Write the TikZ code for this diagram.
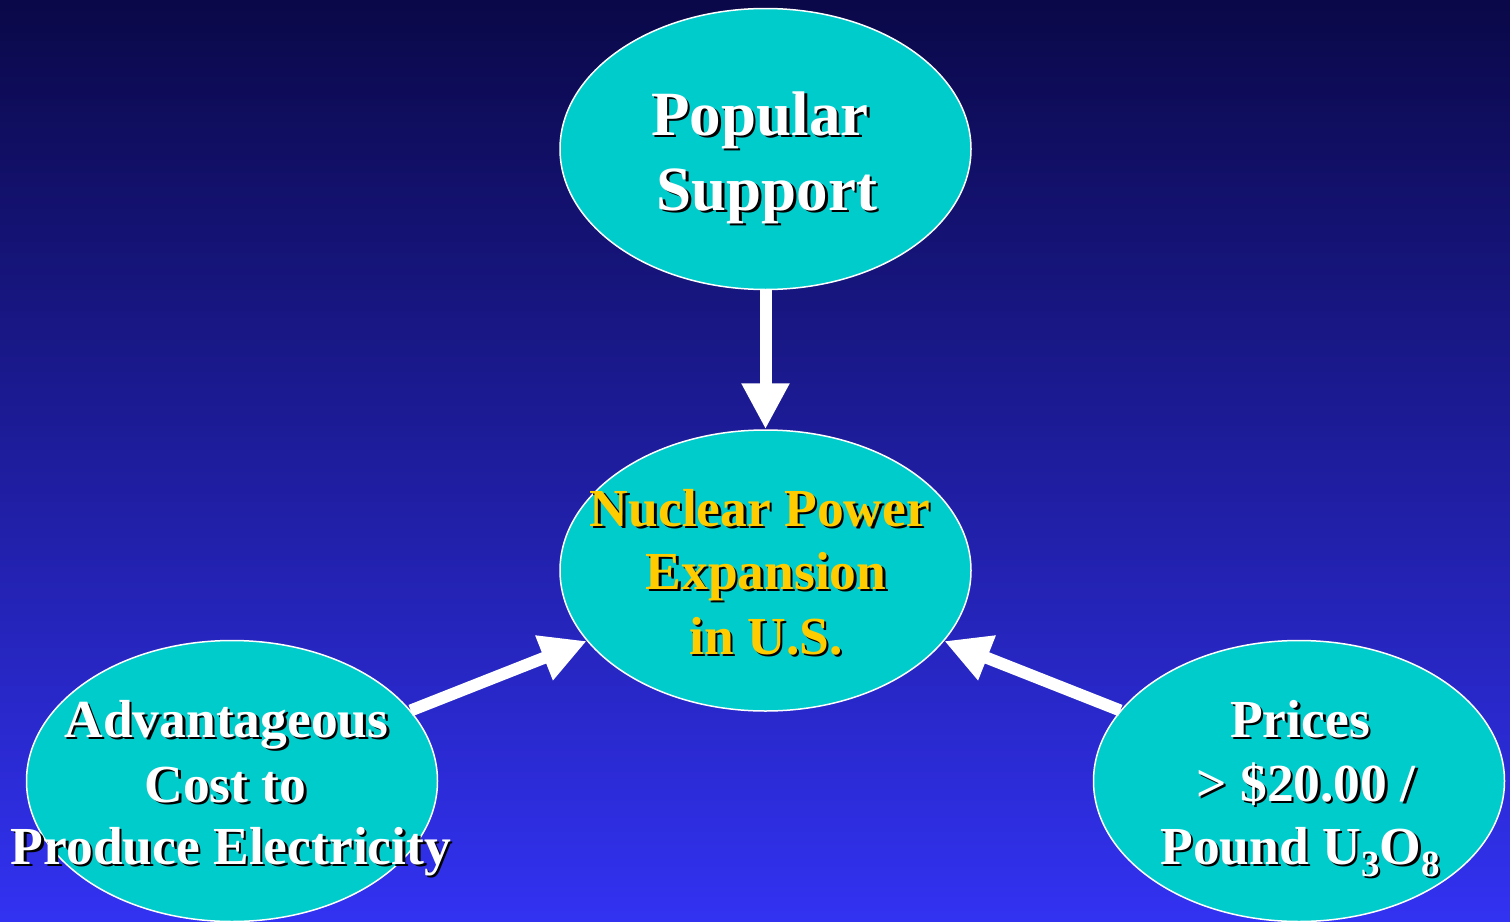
\documentclass[tikz,border=0pt]{standalone}
\usepackage{fontspec}
\setmainfont{Liberation Serif}
\usetikzlibrary{shapes.geometric,arrows.meta}
\definecolor{bgtop}{RGB}{10,8,72}
\definecolor{bgbot}{RGB}{50,50,242}
\definecolor{cyanfill}{RGB}{0,204,204}
\definecolor{gold}{RGB}{255,204,0}
\definecolor{shadowc}{RGB}{0,0,0}
\newcommand\shline[1]{\rlap{\kern2.5pt\raisebox{-2.5pt}{\color{shadowc}#1}}#1}
\newcommand\subd[1]{\raisebox{-12pt}{\fontsize{37}{37}\selectfont #1}}
\tikzset{
  bubble/.style={ellipse, draw=white, line width=1.5pt, fill=cyanfill,
    minimum width=411pt, minimum height=281pt, inner sep=0pt},
  txt/.style={anchor=base, inner sep=0pt, text=white,
    font=\fontsize{53.5}{64}\selectfont\bfseries},
  bigtxt/.style={txt, font=\fontsize{63}{75}\selectfont\bfseries},
  goldtxt/.style={txt, text=gold},
  fat/.style={draw=white, line width=12pt,
    -{Triangle[width=45pt,length=46pt]}}
}
\begin{document}
\begin{tikzpicture}[x=1pt,y=1pt]
\useasboundingbox (0,0) rectangle (1510,-921);
\shade[top color=bgtop, bottom color=bgbot] (0,0) rectangle (1510,-921);

\node[bubble] (top) at (765.5,-149) {};
\node[bubble] (mid) at (765.5,-570.5) {};
\node[bubble] (left) at (232,-781) {};
\node[bubble] (right) at (1299,-781) {};

\draw[fat] (top) -- (mid);
\draw[fat] (left) -- (mid);
\draw[fat] (right) -- (mid);

\node[bigtxt] (t1) at (760,-135) {\shline{Popular}};
\node[bigtxt] (t2) at (767,-210) {\shline{Support}};

\node[goldtxt] (m1) at (760,-526) {\shline{Nuclear Power}};
\node[goldtxt] (m2) at (766,-589) {\shline{Expansion}};
\node[goldtxt] (m3) at (766,-654) {\shline{in U.S.}};

\node[txt] (l1) at (226.5,-737) {\shline{Advantageous}};
\node[txt] (l2) at (225.5,-802) {\shline{Cost to}};
\node[txt] (l3) at (231,-864) {\shline{Produce Electricity}};

\node[txt] (r1) at (1300,-737) {\shline{Prices}};
\node[txt] (r2) at (1306,-801) {\shline{> \$20.00 /}};
\node[txt] (r3) at (1300,-864) {\shline{Pound U\subd{3}O\subd{8}}};
\end{tikzpicture}
\end{document}
